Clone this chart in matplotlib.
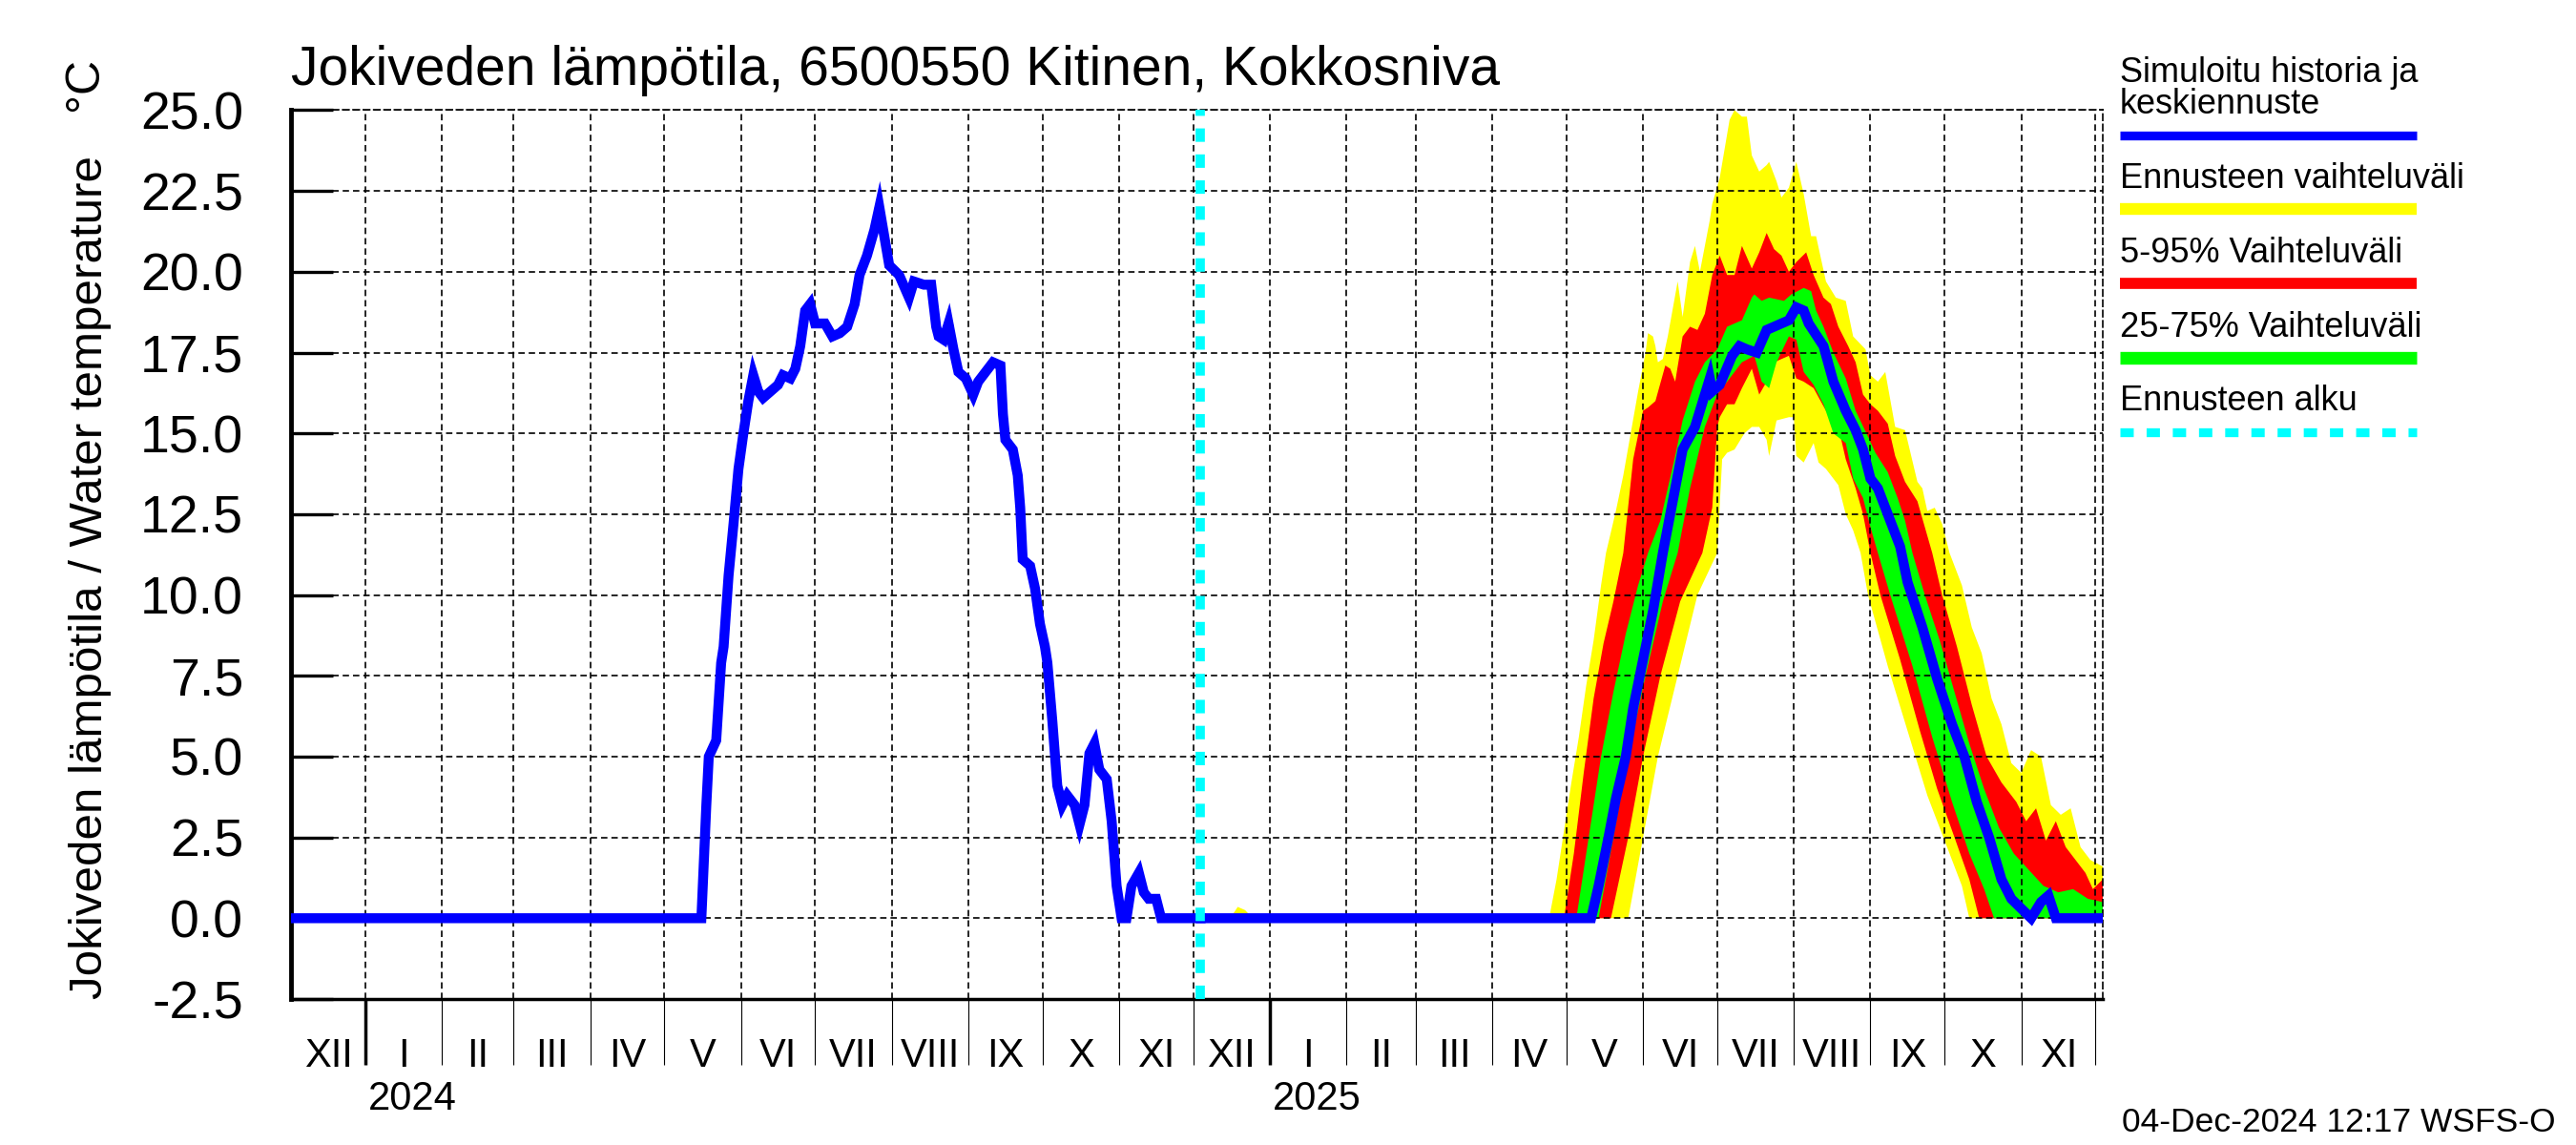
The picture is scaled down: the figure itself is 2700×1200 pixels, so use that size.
import numpy as np
import matplotlib
matplotlib.use('Agg')
import matplotlib.pyplot as plt
import matplotlib.dates as mdates
import matplotlib.transforms as mtransforms
from matplotlib.lines import Line2D
from datetime import date

# history: days since 2024-01-01
hist_day = [-30, 136, 138, 139, 142, 144, 145, 147, 149, 151, 153, 155, 157, 159, 161, 164, 167, 169, 172, 174,
            176, 178, 180, 182, 186, 189, 192, 195, 198, 200, 203, 206, 208, 212, 216, 220, 222, 226, 229, 231,
            232, 234, 236, 238, 240, 243, 246, 248, 250, 254, 257, 258, 259, 262, 264, 265, 266, 269, 271, 273,
            275, 276, 278, 280, 282, 284, 287, 289, 291, 293, 295, 297, 300, 302, 304, 306, 308, 310, 313, 315,
            317, 320, 322, 338]
hist_temp = [0, 0, 3.5, 5.0, 5.5, 7.9, 8.4, 10.6, 12.2, 13.9, 15.0, 16.0, 16.8, 16.3, 16.1, 16.3, 16.5, 16.8, 16.7, 17.0,
             17.7, 18.8, 19.0, 18.4, 18.4, 18.0, 18.1, 18.3, 19.0, 19.9, 20.5, 21.3, 22.0, 20.2, 19.9, 19.2, 19.7, 19.6, 19.6, 18.3,
             18.0, 17.9, 18.4, 17.6, 16.9, 16.7, 16.2, 16.6, 16.8, 17.2, 17.1, 15.6, 14.8, 14.5, 13.7, 12.7, 11.1, 10.9, 10.2, 9.1,
             8.4, 7.9, 6.1, 4.1, 3.5, 3.8, 3.5, 2.9, 3.5, 5.1, 5.4, 4.6, 4.3, 3.0, 1.0, 0, 0, 1.0, 1.4, 0.8,
             0.6, 0.6, 0, 0]

# forecast: days since 2025-01-01
yel_hi_day = [-28, -16, -13, -10, -7, 113, 116, 119, 122, 125, 128, 131, 134, 136, 140, 143, 146, 149, 152, 153,
              155, 156, 157, 159, 161, 165, 167, 170, 172, 174, 178, 179, 182, 186, 188, 191, 193, 195, 198, 201,
              202, 205, 207, 210, 213, 216, 219, 221, 225, 229, 233, 236, 241, 243, 246, 249, 253, 257, 262, 264,
              266, 269, 272, 275, 280, 284, 288, 292, 296, 300, 304, 308, 312, 316, 320, 324, 328, 332, 337]
yel_hi = [0, 0, 0.35, 0.25, 0, 0, 1.2, 2.7, 4.2, 5.6, 7.2, 8.6, 10.3, 11.3, 12.6, 13.7, 15.0, 16.3, 17.5, 18.1,
          18.0, 17.7, 17.2, 17.3, 18.0, 19.7, 18.6, 20.3, 20.8, 20.0, 21.6, 22.1, 22.9, 24.7, 25.0, 24.8, 24.8, 23.6, 23.1, 23.3,
          23.4, 22.8, 22.3, 22.6, 23.4, 22.4, 21.1, 21.1, 19.7, 19.2, 19.1, 18.0, 17.6, 16.8, 16.6, 16.9, 15.2, 15.1, 13.5, 13.3,
          12.6, 12.7, 12.2, 11.3, 10.3, 9.0, 8.2, 6.8, 6.0, 4.8, 4.5, 5.2, 5.0, 3.5, 3.2, 3.4, 2.2, 1.8, 1.6]
yel_lo_day = [-28, 145, 151, 157, 165, 173, 181, 183, 185, 188, 192, 195, 198, 201, 202, 205, 210, 212, 213, 216,
              220, 222, 225, 230, 233, 236, 239, 242, 250, 258, 266, 274, 280, 283, 337]
yel_lo = [0, 0, 2.5, 5.0, 7.5, 10.0, 11.3, 14.2, 14.4, 14.5, 15.0, 15.2, 15.2, 14.8, 14.3, 15.4, 15.5, 15.5, 14.3, 14.1,
          14.7, 14.1, 13.9, 13.4, 12.5, 12.0, 11.3, 10.0, 7.8, 5.8, 3.8, 2.2, 1.0, 0, 0]

red_hi_day = [-28, 119, 123, 127, 131, 135, 139, 143, 147, 151, 153, 156, 160, 162, 164, 167, 170, 173, 176, 179,
              182, 185, 188, 191, 195, 198, 201, 204, 207, 210, 213, 217, 220, 224, 227, 230, 234, 237, 240, 243,
              246, 250, 253, 257, 262, 265, 268, 272, 278, 284, 290, 296, 302, 306, 310, 314, 318, 322, 326, 330,
              333, 337]
red_hi = [0, 0, 2.0, 4.5, 6.8, 8.5, 9.8, 11.3, 14.2, 15.7, 15.8, 16.0, 17.1, 17.0, 16.6, 18.0, 18.3, 18.2, 18.7, 19.9,
          20.5, 19.9, 19.9, 20.8, 20.1, 20.6, 21.2, 20.7, 20.5, 20.0, 20.3, 20.6, 19.9, 19.2, 19.0, 18.3, 17.7, 17.2, 16.2, 15.9,
          15.7, 15.3, 14.3, 13.5, 12.9, 12.1, 11.3, 10.0, 8.4, 6.6, 5.0, 4.2, 3.6, 3.0, 3.4, 2.4, 3.0, 2.2, 1.8, 1.4,
          0.9, 1.2]
red_lo_day = [-28, 138, 145, 151, 158, 166, 175, 179, 181, 182, 185, 188, 191, 195, 198, 201, 204, 207, 210, 213,
              216, 220, 225, 230, 233, 237, 240, 243, 247, 255, 263, 270, 277, 283, 287, 337]
red_lo = [0, 0, 2.5, 5.0, 7.5, 9.8, 11.3, 12.7, 15.2, 15.5, 15.9, 15.9, 16.4, 17.0, 16.2, 16.6, 17.2, 17.3, 17.4, 16.7,
          16.6, 16.4, 15.7, 15.2, 14.2, 13.3, 12.5, 11.3, 10.0, 8.0, 5.8, 4.0, 2.5, 1.2, 0, 0]

grn_hi_day = [-28, 124, 129, 134, 139, 144, 149, 153, 158, 164, 167, 172, 176, 181, 185, 191, 195, 196, 199, 202,
              208, 211, 216, 219, 221, 224, 228, 233, 237, 242, 245, 250, 254, 257, 260, 265, 271, 277, 283, 289,
              295, 301, 307, 313, 319, 325, 331, 337]
grn_hi = [0, 0, 2.5, 5.0, 7.0, 8.8, 10.3, 11.3, 12.3, 14.3, 15.4, 16.6, 17.2, 17.6, 18.3, 18.5, 19.2, 19.3, 19.1, 19.2,
          19.1, 19.3, 19.5, 19.4, 18.8, 18.3, 17.5, 16.7, 15.7, 14.9, 14.4, 13.8, 13.0, 12.3, 11.3, 10.0, 8.6, 7.0, 5.4, 4.0,
          2.8, 2.0, 1.5, 1.0, 0.8, 0.9, 0.6, 0.5]
grn_lo_day = [-28, 133, 139, 145, 152, 159, 165, 170, 176, 181, 185, 191, 196, 199, 202, 205, 210, 213, 216, 220,
              224, 228, 233, 236, 240, 243, 246, 251, 260, 268, 276, 283, 289, 293, 337]
grn_lo = [0, 0, 2.5, 5.0, 7.5, 9.8, 11.3, 13.3, 15.2, 16.2, 16.6, 17.2, 17.4, 16.6, 16.4, 17.2, 18.0, 17.9, 16.9, 16.5,
          15.9, 15.0, 14.7, 13.6, 13.0, 12.1, 11.3, 10.0, 7.8, 5.6, 3.6, 2.0, 0.9, 0, 0]

mean_day = [-28, 130, 133, 137, 140, 144, 147, 151, 155, 159, 167, 172, 178, 179, 182, 187, 190, 193, 197, 201,
            204, 210, 213, 216, 218, 224, 228, 233, 237, 240, 243, 246, 249, 252, 255, 258, 264, 270, 276, 281,
            286, 291, 296, 300, 304, 308, 312, 315, 318, 337]
mean_temp = [0, 0, 1.0, 2.5, 3.7, 5.0, 6.5, 8.0, 9.5, 11.3, 14.5, 15.2, 16.7, 16.3, 16.5, 17.4, 17.7, 17.6, 17.5, 18.2,
             18.3, 18.5, 18.9, 18.8, 18.4, 17.7, 16.6, 15.7, 15.1, 14.5, 13.6, 13.3, 12.7, 12.1, 11.5, 10.4, 9.0, 7.4, 6.0, 5.0,
             3.6, 2.5, 1.2, 0.6, 0.3, 0, 0.5, 0.7, 0, 0]

months = ['XII', 'I', 'II', 'III', 'IV', 'V', 'VI', 'VII', 'VIII', 'IX', 'X', 'XI',
          'XII', 'I', 'II', 'III', 'IV', 'V', 'VI', 'VII', 'VIII', 'IX', 'X', 'XI']
years = ['2024', '2025']
legend_labels = ['Simuloitu historia ja\nkeskiennuste', 'Ennusteen vaihteluväli', '5-95% Vaihteluväli',
                 '25-75% Vaihteluväli', 'Ennusteen alku']
title = 'Jokiveden lämpötila, 6500550 Kitinen, Kokkosniva'
footer = '04-Dec-2024 12:17 WSFS-O'

base24 = mdates.date2num(date(2024, 1, 1))
base25 = mdates.date2num(date(2025, 1, 1))
fc_start = mdates.date2num(date(2024, 12, 4))

SANS = ['Liberation Sans', 'DejaVu Sans']

fig = plt.figure(figsize=(27, 12), dpi=100)
ax = fig.add_axes([0.113, 0.1275, 0.7033, 0.7763])


def band(hi_d, hi, lo_d, lo, color, z):
    xs = np.r_[base25 + np.array(hi_d), base25 + np.array(lo_d)[::-1]]
    ys = np.r_[np.array(hi), np.array(lo)[::-1]]
    ax.fill(xs, ys, color=color, lw=0, zorder=z)


band(yel_hi_day, yel_hi, yel_lo_day, yel_lo, '#ffff00', 1.0)
band(red_hi_day, red_hi, red_lo_day, red_lo, '#ff0000', 1.1)
band(grn_hi_day, grn_hi, grn_lo_day, grn_lo, '#00ff00', 1.2)

ax.plot(base24 + np.array(hist_day), hist_temp, color='#0000ff', lw=7.5, zorder=3, solid_joinstyle='miter')
ax.plot(base25 + np.array(mean_day), mean_temp, color='#0000ff', lw=7.5, zorder=3, solid_joinstyle='miter')
ax.axvline(fc_start, color='#00ffff', lw=7, dashes=(1.45, 1.35), zorder=4)

xmin = mdates.date2num(date(2023, 12, 2))
xmax = mdates.date2num(date(2025, 12, 4))
ax.set_xlim(xmin, xmax)
ax.set_ylim(-2.5, 25.0)

# month boundaries
all_starts = [mdates.date2num(date(2023 + (m + 11) // 12, (m + 11) % 12 + 1, 1)) for m in range(0, 26)]
month_starts = [m for m in all_starts if xmin <= m <= xmax]
year_starts = [base24, base25]
ax.set_xticks(year_starts)
ax.set_xticks([m for m in month_starts if m not in year_starts], minor=True)
ax.tick_params(axis='x', which='both', direction='out', length=50, labelbottom=False)
ax.tick_params(axis='x', which='major', width=2.5)
ax.tick_params(axis='x', which='minor', width=0.8)

yt = np.arange(-2.5, 25.01, 2.5)
ax.set_yticks(yt)
ax.set_yticklabels(['%.1f' % v for v in yt], family=SANS, fontsize=40)
ax.tick_params(axis='y', direction='in', length=32, width=2.4, pad=36)

ax.grid(True, which='both', axis='x', color='black', lw=1.2, dashes=(4.0, 2.5))
ax.grid(True, which='major', axis='y', color='black', lw=1.2, dashes=(4.0, 2.5))
ax.set_axisbelow('line')

ax.spines['left'].set_linewidth(3.5)
ax.spines['bottom'].set_linewidth(2.5)
for s in ['top', 'right']:
    ax.spines[s].set_linewidth(1.2)
    ax.spines[s].set_linestyle((0, (4.0, 2.5)))

# month and year labels under the axis
trans = mtransforms.blended_transform_factory(ax.transData, fig.transFigure)
for i, name in enumerate(months):
    mid = (max(all_starts[i], xmin) + all_starts[i + 1]) / 2
    ax.text(mid, 0.0771, name, transform=trans, ha='center', va='center',
            family=SANS, fontsize=30, clip_on=False)
for ys, lab in zip(year_starts, years):
    ax.text(ys + 1.2, 0.0396, lab, transform=trans, ha='left', va='center',
            family=SANS, fontsize=30, clip_on=False)

fig.text(0.113, 0.926, title, family=SANS, fontsize=41, ha='left', va='baseline')
fig.text(0.035, 0.1275, 'Jokiveden lämpötila / Water temperature', family=SANS, fontsize=35.5,
         rotation=90, ha='center', va='bottom')
fig.text(0.033, 0.927, '°C', family=SANS, fontsize=36, rotation=90, ha='center', va='center')
fig.text(0.992, 0.02, footer, family=SANS, fontsize=25.5, ha='right', va='center')

# legend on the right
lx0, lx1 = 0.823, 0.938
text_base = [0.9006, 0.836, 0.7708, 0.7056, 0.6417]
line_y = [0.8817, 0.8172, 0.7522, 0.6875, 0.6225]
colors = ['#0000ff', '#ffff00', '#ff0000', '#00ff00', '#00ffff']
widths = [6.7, 8.9, 8.4, 9.6, 6.7]
for lab, tb, ly, c, w in zip(legend_labels, text_base, line_y, colors, widths):
    fig.text(lx0, tb, lab, family=SANS, fontsize=26, ha='left', va='baseline', linespacing=0.95)
    kw = dict(dashes=(1.5, 1.45)) if c == '#00ffff' else {}
    fig.add_artist(Line2D([lx0, lx1], [ly, ly], transform=fig.transFigure, color=c, lw=w,
                          solid_capstyle='butt', dash_capstyle='butt', **kw))

fig.savefig('out.png', dpi=100)
